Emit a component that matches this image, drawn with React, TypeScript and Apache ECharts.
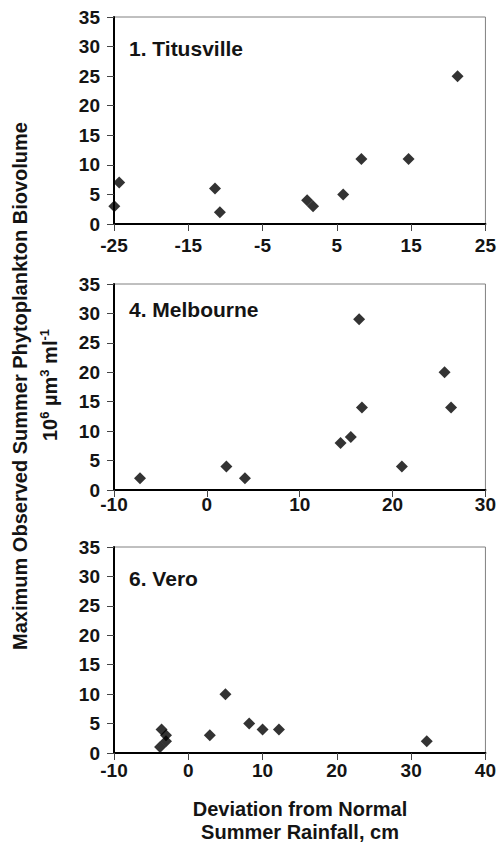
import React, { useEffect, useRef } from "react";
import * as echarts from "echarts";

const yTicks = [0, 5, 10, 15, 20, 25, 30, 35];
const titusvilleTicks = [-25, -15, -5, 5, 15, 25];
const melbourneTicks = [-10, 0, 10, 20, 30];
const veroTicks = [-10, 0, 10, 20, 30, 40];

const panelTitles = ["1. Titusville", "4. Melbourne", "6. Vero"];

const titusvilleX = [-24.96, -24.3, -11.4, -10.75, 1.0, 1.8, 5.85, 8.3, 14.65, 21.25];
const titusvilleY = [3, 7, 6, 2, 4, 3, 5, 11, 11, 25];
const melbourneX = [-7.2, 2.1, 4.1, 14.4, 15.5, 16.4, 16.7, 21.0, 25.6, 26.3];
const melbourneY = [2, 4, 2, 8, 9, 29, 14, 4, 20, 14];
const veroX = [-3.8, -3.6, -3.0, -3.0, 2.9, 5.0, 8.2, 10.0, 12.2, 32.1];
const veroY = [1, 4, 3, 2, 3, 10, 5, 4, 4, 2];

const xLabelLines = ["Deviation from Normal", "Summer Rainfall, cm"];
const yLabelLine1 = "Maximum Observed Summer Phytoplankton Biovolume";

const FONT = "'Liberation Sans', Arial, Helvetica, sans-serif";
const TXT = "#141414";

export default function App() {
  const ref = useRef<HTMLDivElement>(null);
  useEffect(() => {
    const chart = echarts.init(ref.current!, null, { renderer: "svg" });
    const grids = [
      { left: 114, top: 17, width: 373, height: 207 },
      { left: 114, top: 284, width: 373, height: 206 },
      { left: 114, top: 547, width: 373, height: 206 },
    ].map((g) => ({
      ...g,
      show: true,
      borderColor: "#808080",
      borderWidth: 1,
      backgroundColor: "transparent",
      containLabel: false,
    }));
    const xTickSets = [titusvilleTicks, melbourneTicks, veroTicks];
    const xMargins = [12, 5, 8];
    const xAxes = xTickSets.map((ticks, i) => ({
      type: "value",
      gridIndex: i,
      min: ticks[0],
      max: ticks[ticks.length - 1],
      axisLine: { show: true, onZero: false, lineStyle: { color: "#000", width: 2 } },
      axisTick: { show: true, length: 7, customValues: ticks, lineStyle: { color: "#444", width: 1 } },
      axisLabel: {
        customValues: ticks,
        margin: xMargins[i],
        fontSize: 19,
        fontWeight: "bold",
        fontFamily: FONT,
        color: TXT,
      },
      splitLine: { show: false },
    }));
    const yAxes = [0, 1, 2].map((i) => ({
      type: "value",
      gridIndex: i,
      min: yTicks[0],
      max: yTicks[yTicks.length - 1],
      interval: 5,
      axisLine: { show: true, onZero: false, lineStyle: { color: "#000", width: 2 } },
      axisTick: { show: true, length: 7, lineStyle: { color: "#444", width: 1 } },
      axisLabel: {
        margin: 14,
        fontSize: 19,
        fontWeight: "bold",
        fontFamily: FONT,
        color: TXT,
      },
      splitLine: { show: false },
    }));
    const datasets = [
      [titusvilleX, titusvilleY],
      [melbourneX, melbourneY],
      [veroX, veroY],
    ];
    const series = datasets.map(([xs, ys], i) => ({
      type: "scatter",
      xAxisIndex: i,
      yAxisIndex: i,
      symbol: "diamond",
      symbolSize: 12,
      clip: false,
      itemStyle: { color: "#000" },
      data: xs.map((x, j) => [x, ys[j]]),
    }));
    const titleY = [48, 309, 578];
    const graphic: any[] = panelTitles.map((t, i) => ({
      type: "text",
      x: 129,
      y: titleY[i],
      style: {
        text: t,
        fontSize: 21,
        fontWeight: "bold",
        fontFamily: FONT,
        fill: TXT,
        verticalAlign: "middle",
      },
    }));
    graphic.push({
      type: "text",
      x: 19.5,
      y: 386,
      rotation: Math.PI / 2,
      style: {
        text: yLabelLine1,
        fontSize: 20,
        fontWeight: "bold",
        fontFamily: FONT,
        fill: TXT,
        align: "center",
        verticalAlign: "middle",
      },
    });
    graphic.push({
      type: "text",
      x: 50,
      y: 385,
      rotation: Math.PI / 2,
      style: {
        text: "{n|10}{s|6}{n| µm}{s|3}{n| ml}{s|-1}",
        align: "center",
        verticalAlign: "middle",
        fill: TXT,
        fontFamily: FONT,
        fontWeight: "bold",
        rich: {
          n: { fontSize: 20, lineHeight: 24, fontWeight: "bold", fontFamily: FONT, fill: TXT },
          s: { fontSize: 13, lineHeight: 14, verticalAlign: "top", fontWeight: "bold", fontFamily: FONT, fill: TXT },
        },
      },
    });
    const xLabY = [809, 832];
    xLabelLines.forEach((t, i) =>
      graphic.push({
        type: "text",
        x: 300,
        y: xLabY[i],
        style: {
          text: t,
          fontSize: 20,
          fontWeight: "bold",
          fontFamily: FONT,
          fill: TXT,
          align: "center",
          verticalAlign: "middle",
        },
      })
    );
    chart.setOption({
      animation: false,
      backgroundColor: "#fff",
      grid: grids,
      xAxis: xAxes,
      yAxis: yAxes,
      series,
      graphic,
    });
    return () => chart.dispose();
  }, []);
  return (
    <div
      ref={ref}
      style={{ position: "absolute", left: 0, top: 0, width: 499, height: 849 }}
    />
  );
}
